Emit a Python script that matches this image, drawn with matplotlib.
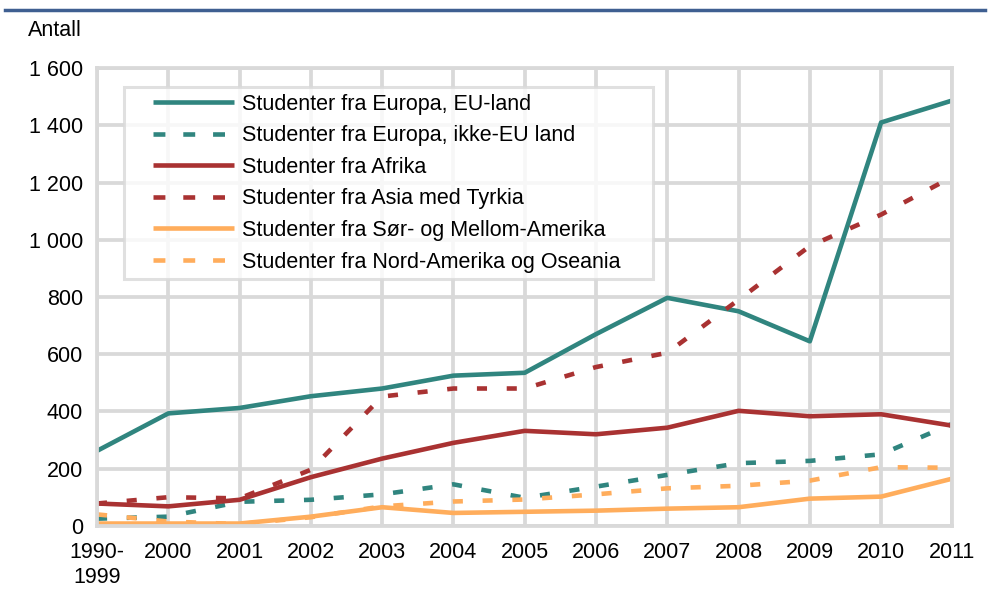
""" Utenlandske studenter etter verdensdel """

from matplotlib import pyplot as plt
from matplotlib.lines import Line2D
from matplotlib.legend_handler import HandlerLine2D

years = ["1990-\n1999", "2000", "2001", "2002", "2003", "2004", "2005",
         "2006", "2007", "2008", "2009", "2010", "2011"]

europa_eu = [262, 393, 412, 453, 480, 525, 535, 670, 797, 750, 645, 1410, 1487]
europa_ikke_eu = [25, 32, 84, 91, 110, 145, 98, 137, 178, 219, 227, 250, 357]
afrika = [78, 68, 91, 170, 235, 290, 332, 320, 343, 402, 383, 390, 350]
asia = [78, 100, 96, 196, 452, 480, 480, 555, 605, 790, 978, 1088, 1220]
sor_amerika = [8, 8, 8, 32, 65, 45, 49, 53, 60, 65, 95, 102, 165]
nord_amerika = [40, 15, 6, 30, 68, 85, 92, 110, 131, 140, 158, 205, 203]

labels = ["Studenter fra Europa, EU-land",
          "Studenter fra Europa, ikke-EU land",
          "Studenter fra Afrika",
          "Studenter fra Asia med Tyrkia",
          "Studenter fra Sør- og Mellom-Amerika",
          "Studenter fra Nord-Amerika og Oseania"]

teal = "#30857F"
red = "#A93232"
orange = "#FFAD5C"
grid = "#D9D9D9"
fs = 15.5
lw = 3.3


class PadHandler(HandlerLine2D):
    """ legend line that leaves some room on its left side """

    def get_xdata(self, legend, xdescent, ydescent, width, height, fontsize):
        x0 = -xdescent + 0.215 * width
        return [x0, -xdescent + width], [x0]


plt.rcParams["font.family"] = ["Liberation Sans", "DejaVu Sans"]

fig = plt.figure(figsize=(9.9, 6.03), dpi=100)
ax = fig.add_axes([0.098, 0.128, 0.864, 0.759])

x = list(range(len(years)))
series = [europa_eu, europa_ikke_eu, afrika, asia, sor_amerika, nord_amerika]
colors = [teal, teal, red, red, orange, orange]
dashed = [False, True, False, True, False, True]

for vals, col, d, lab in zip(series, colors, dashed, labels):
    line, = ax.plot(x, vals, color=col, lw=lw, label=lab,
                    solid_capstyle="butt", dash_capstyle="butt")
    if d:
        line.set_dashes((2.2, 4.3))

ax.set_xlim(0, len(years) - 1)
ax.set_ylim(0, 1600)
ax.set_yticks(range(0, 1601, 200))
ax.set_yticklabels(["0", "200", "400", "600", "800", "1 000", "1 200",
                    "1 400", "1 600"])
ax.set_xticks(x)
ax.set_xticklabels(years)
ax.grid(True, color=grid, lw=2.7)
ax.set_axisbelow(True)
for s in ax.spines.values():
    s.set_color(grid)
    s.set_linewidth(2.7)
ax.tick_params(axis="y", length=0, labelsize=fs, pad=10)
ax.tick_params(axis="x", length=0, labelsize=fs, pad=12)

handles = []
for col, d, lab in zip(colors, dashed, labels):
    h = Line2D([], [], color=col, lw=lw, label=lab,
               solid_capstyle="butt", dash_capstyle="butt")
    if d:
        h.set_dashes((2.6, 3.9))
    handles.append(h)
leg = ax.legend(handles=handles, loc="upper left",
                bbox_to_anchor=(0.032, 0.543, 0.6175, 0.415), mode="expand",
                fontsize=fs, frameon=True, fancybox=False, handlelength=4.8,
                handletextpad=0.37, labelspacing=0.49, borderpad=0.3,
                borderaxespad=0, handler_map={Line2D: PadHandler()})
leg.get_frame().set_edgecolor(grid)
leg.get_frame().set_linewidth(2.2)

fig.text(0.028, 0.95, "Antall", fontsize=fs, va="center")
fig.add_artist(Line2D([0.005, 0.995], [0.983, 0.983], color="#3F5F91",
                      lw=2.5, transform=fig.transFigure))

fig.savefig("out.png", dpi=100)
